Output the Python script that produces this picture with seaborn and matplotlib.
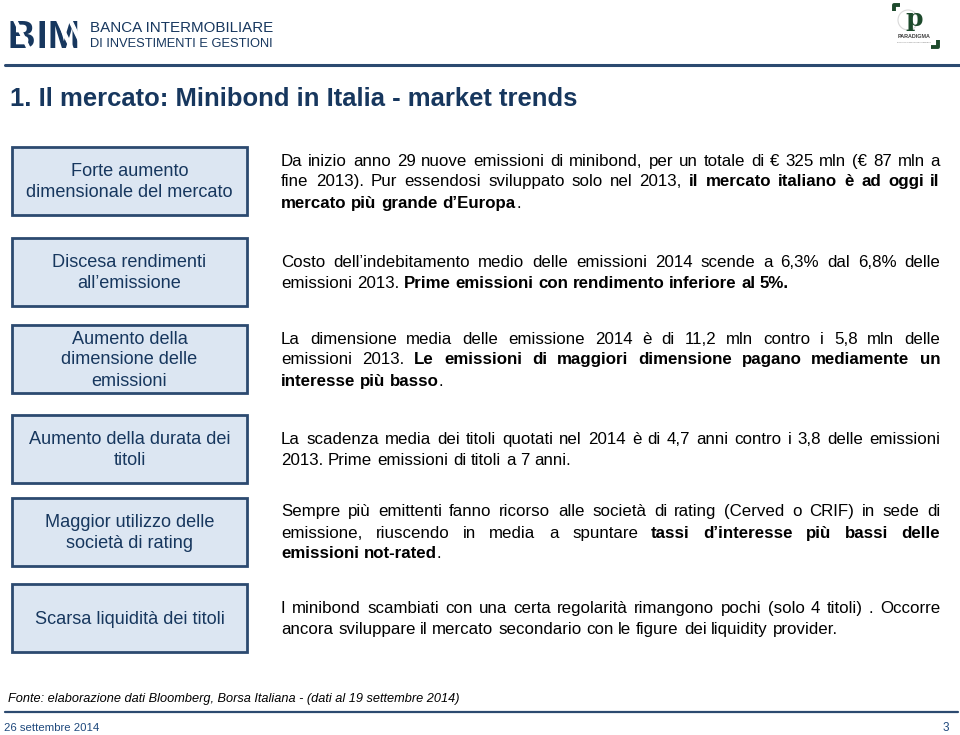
import matplotlib
matplotlib.use("Agg")
import matplotlib.pyplot as plt
import seaborn as sns
from matplotlib.patches import Rectangle, Polygon

sns.set_theme(style="white")
plt.rcParams['font.family'] = ['Liberation Sans', 'DejaVu Sans']

# ---------------- content ----------------
logo_letters = ["B", "I", "M"]
bank_name = ["BANCA INTERMOBILIARE", "DI INVESTIMENTI E GESTIONI"]
partner_name = ["p", "PARADIGMA", "Ricerca e Consulenza Finanziaria"]
title = "1. Il mercato: Minibond in Italia - market trends"
box_labels = [
    ["Forte aumento", "dimensionale del mercato"],
    ["Discesa rendimenti", "all\u2019emissione"],
    ["Aumento della", "dimensione delle", "emissioni"],
    ["Aumento della durata dei", "titoli"],
    ["Maggior utilizzo delle", "societ\u00e0 di rating"],
    ["Scarsa liquidit\u00e0 dei titoli"],
]
descriptions = [
    ["Da inizio anno 29 nuove emissioni di minibond, per un totale di \u20ac 325 mln (\u20ac 87 mln a",
     "fine 2013). Pur essendosi sviluppato solo nel 2013, **il mercato italiano \u00e8 ad oggi il**",
     "**mercato pi\u00f9 grande d\u2019Europa**."],
    ["Costo dell\u2019indebitamento medio delle emissioni 2014 scende a 6,3% dal 6,8% delle",
     "emissioni 2013. **Prime emissioni con rendimento inferiore al 5%.**"],
    ["La dimensione media delle emissione 2014 \u00e8 di 11,2 mln contro i 5,8 mln delle",
     "emissioni 2013. **Le emissioni di maggiori dimensione pagano mediamente un**",
     "**interesse pi\u00f9 basso**."],
    ["La scadenza media dei titoli quotati nel 2014 \u00e8 di 4,7 anni contro i 3,8 delle emissioni",
     "2013. Prime emissioni di titoli a 7 anni."],
    ["Sempre pi\u00f9 emittenti fanno ricorso alle societ\u00e0 di rating (Cerved o CRIF) in sede di",
     "emissione, riuscendo in media a spuntare **tassi d\u2019interesse pi\u00f9 bassi delle**",
     "**emissioni not-rated**."],
    ["I minibond scambiati con una certa regolarit\u00e0 rimangono pochi (solo 4 titoli) . Occorre",
     "ancora sviluppare il mercato secondario con le figure dei liquidity provider."],
]
source = "Fonte: elaborazione dati Bloomberg, Borsa Italiana - (dati al 19 settembre 2014)"
date_label = "26 settembre 2014"
page_label = "3"

# ---------------- style ----------------
NAVY = "#17375e"
BORDER = "#2c4a70"
FILL = "#dce6f2"
FAM = ['Liberation Sans', 'DejaVu Sans']
BODY_SIZE = 12.2

fig = plt.figure(figsize=(9.6, 7.35), dpi=100)
ax = fig.add_axes([0, 0, 1, 1])
ax.set_xlim(0, 960)
ax.set_ylim(735, 0)
ax.axis("off")
renderer = fig.canvas.get_renderer()


def text_width(s, bold=False, size=12, family=FAM, style="normal", weight=None):
    t = ax.text(0, 0, s, fontsize=size, fontstyle=style,
                fontweight=weight if weight else ("bold" if bold else "normal"),
                family=family)
    w = t.get_window_extent(renderer).width
    t.remove()
    return w


def fit_size(s, target, base=12, **kw):
    return base * target / text_width(s, size=base, **kw)


def parse_words(line):
    words = []
    bold = False
    for raw in line.split(" "):
        pieces = []
        parts = raw.split("**")
        for i, p in enumerate(parts):
            if i > 0:
                bold = not bold
            if p:
                pieces.append((p, bold))
        if pieces:
            words.append(pieces)
    return words


def draw_paragraph(lines, x0, x1, y_first, step, size, family, color="black"):
    space = text_width("a a", False, size, family) - text_width("aa", False, size, family)
    for li, line in enumerate(lines):
        words = parse_words(line)
        widths = [sum(text_width(p, b, size, family) for p, b in w) for w in words]
        justify = li < len(lines) - 1 and len(words) > 1
        gap = (x1 - x0 - sum(widths)) / (len(words) - 1) if justify else space
        x = x0
        y = round(y_first + li * step)
        for w, wd in zip(words, widths):
            xx = x
            for p, b in w:
                ax.text(round(xx), y, p, fontsize=size, family=family, color=color,
                        fontweight="bold" if b else "normal", ha="left", va="baseline")
                xx += text_width(p, b, size, family)
            x += wd + gap


# ---------------- header ----------------
# BIM logo (letters with diagonal white cuts)
letter_x = [7, 36.5, 48]
for lx, ch in zip(letter_x, logo_letters):
    ax.text(lx, 47.5, ch, fontsize=27.5, fontweight="heavy", color=NAVY, ha="left",
            va="baseline", family=FAM)
for xs in [13, 56, 68]:
    ax.add_patch(Polygon([[xs, 19], [xs + 3.2, 19], [xs + 17, 48], [xs + 13.8, 48]],
                         closed=True, color="white", zorder=5))

s1 = fit_size(bank_name[0], 183, 12, family=FAM)
s2 = fit_size(bank_name[1], 183, 12, family=FAM)
ax.text(90, 32, bank_name[0], fontsize=s1, color=NAVY, ha="left", va="baseline",
        family=FAM)
ax.text(90, 47, bank_name[1], fontsize=s2, color=NAVY, ha="left", va="baseline",
        family=FAM)

# Paradigma logo
G = "#1d4a2c"
ax.plot([893.5, 893.5, 900], [11, 4.5, 4.5], color=G, lw=2.8, solid_capstyle="butt")
ax.plot([931, 937.5, 937.5], [46.5, 46.5, 40], color=G, lw=2.8, solid_capstyle="butt")
ax.add_patch(plt.Circle((908, 20), 10, fill=False, ec="#d9d9d9", lw=0.8))
ax.text(914, 26, partner_name[0], fontsize=18, color=G, ha="center", va="baseline",
        family="DejaVu Serif", fontweight="bold")
ax.text(914, 38, partner_name[1], fontsize=fit_size(partner_name[1], 33, 6, family=FAM,
        weight="bold"), color="#3c3c3c", ha="center", va="baseline",
        fontweight="bold", family=FAM)
ax.text(914, 43, partner_name[2], fontsize=fit_size(partner_name[2], 34, 4, family=FAM),
        color="#777777", ha="center", va="baseline", family=FAM)

# top rule and title
ax.plot([5, 960], [65, 65], color=BORDER, lw=2.2)
ax.text(10, 106, title, fontsize=fit_size(title, 567, 18, family=FAM, weight="bold"),
        fontweight="bold", color=NAVY, ha="left", va="baseline", family=FAM)

# ---------------- boxes and text ----------------
box_tops = [147, 238, 325, 415, 498, 584]
box_h = 68
for top, lab, desc in zip(box_tops, box_labels, descriptions):
    ax.add_patch(Rectangle((12, top), 235, box_h, facecolor=FILL, edgecolor=BORDER,
                           lw=2.0, zorder=2))
    cy = top + box_h / 2
    n = len(lab)
    for i, s in enumerate(lab):
        y = round(cy + (i - (n - 1) / 2) * 21 + 5.5)
        ax.text(129.5, y, s, fontsize=13.1, color=NAVY, ha="center", va="baseline",
                zorder=3, family=FAM)
    m = len(desc)
    y0 = cy - (m - 1) / 2 * 21 + 5.5
    draw_paragraph(desc, 281, 940, y0, 21, BODY_SIZE, FAM)

# ---------------- footer ----------------
ax.text(8, 702, source, fontsize=fit_size(source, 453, 9, family=FAM, style="italic"),
        fontstyle="italic", color="black", ha="left", va="baseline", family=FAM)
ax.plot([5, 958], [712, 712], color=BORDER, lw=1.6)
ax.text(4, 731, date_label, fontsize=fit_size(date_label, 95, 9, family=FAM),
        color="#1f497d", ha="left", va="baseline", family=FAM)
ax.text(949, 731, page_label, fontsize=8.5, color="#1f497d", ha="right", va="baseline",
        family=FAM)

fig.savefig("out.png", dpi=100, facecolor="white")
